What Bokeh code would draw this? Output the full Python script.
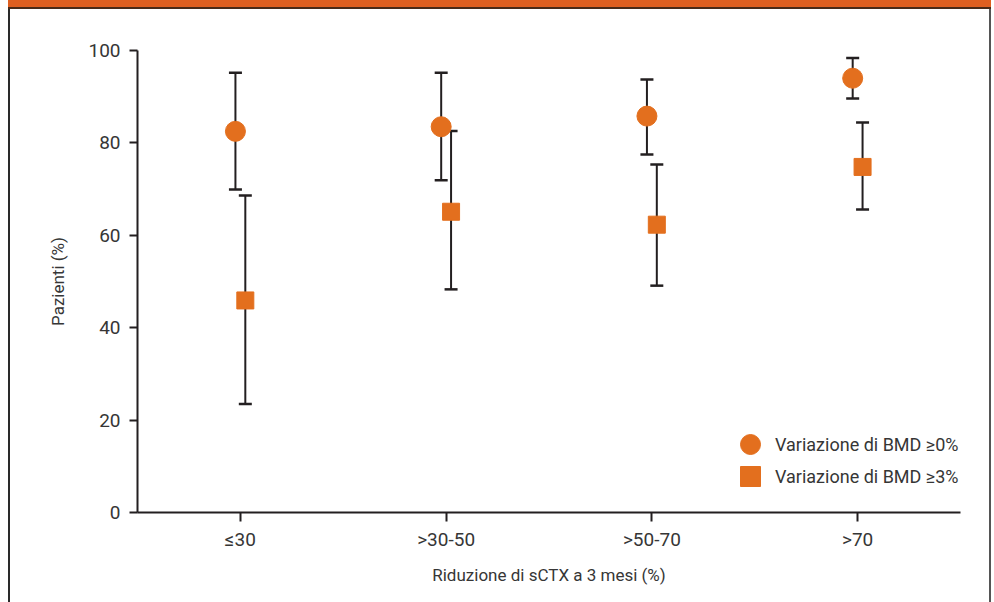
from bokeh.plotting import figure
from bokeh.models import (ColumnDataSource, FactorRange, Whisker, TeeHead, Legend,
                          LegendItem, FixedTicker)
from bokeh.transform import dodge
from bokeh.embed import file_html
from bokeh.resources import INLINE

# ---- data ----
categories = ["≤30", ">30-50", ">50-70", ">70"]
bmd0_mean = [82.5, 83.5, 85.8, 94.0]
bmd0_low = [69.9, 71.9, 77.5, 89.6]
bmd0_high = [95.2, 95.2, 93.7, 98.4]
bmd3_mean = [45.9, 65.1, 62.3, 74.8]
bmd3_low = [23.5, 48.3, 49.1, 65.6]
bmd3_high = [68.6, 82.6, 75.3, 84.4]
y_ticks = [0, 20, 40, 60, 80, 100]
series_labels = ["Variazione di BMD ≥0%", "Variazione di BMD ≥3%"]

ORANGE = "#E36F1E"
DARK = "#231f20"
TEXT = "#363636"
FONT = "Roboto"

src0 = ColumnDataSource(dict(cat=categories, y=bmd0_mean, lo=bmd0_low, hi=bmd0_high))
src3 = ColumnDataSource(dict(cat=categories, y=bmd3_mean, lo=bmd3_low, hi=bmd3_high))

p = figure(
    width=983, height=602,
    x_range=FactorRange(factors=categories, range_padding=0),
    y_range=(0, 100),
    output_backend="svg", toolbar_location=None,
    min_border_left=129, min_border_right=31,
    min_border_top=50, min_border_bottom=90,
)
p.border_fill_alpha = 0
p.background_fill_alpha = 0
p.outline_line_color = None
p.grid.visible = False
p.styles = {
    "margin-left": "8px",
    "box-shadow": "inset 0 7px 0 #DF5F20, inset 0 9px 0 #4a2a18, "
                  "inset 2px 0 0 #2a2a2a, inset -2px 0 0 #555555",
}

off = 0.024
for src, d in ((src0, -off), (src3, off)):
    w = Whisker(source=src, base=dodge("cat", d, range=p.x_range), lower="lo", upper="hi",
                line_color=DARK, line_width=2, level="underlay",
                upper_head=TeeHead(size=13, line_color=DARK, line_width=2.5),
                lower_head=TeeHead(size=13, line_color=DARK, line_width=2.5))
    p.add_layout(w)

r0 = p.scatter(x=dodge("cat", -off, range=p.x_range), y="y", source=src0,
               marker="circle", size=20, fill_color=ORANGE, line_color=ORANGE)
r3 = p.scatter(x=dodge("cat", off, range=p.x_range), y="y", source=src3,
               marker="square", size=17, fill_color=ORANGE, line_color=ORANGE)

# axes
for ax in (p.xaxis[0], p.yaxis[0]):
    ax.axis_line_color = DARK
    ax.axis_line_width = 2
    ax.major_tick_line_color = DARK
    ax.major_tick_line_width = 2
    ax.major_tick_in = 0
    ax.minor_tick_line_color = None
    ax.major_label_text_font = FONT
    ax.major_label_text_font_size = "19px"
    ax.major_label_text_color = TEXT
    ax.axis_label_text_font = FONT
    ax.axis_label_text_font_size = "17px"
    ax.axis_label_text_font_style = "normal"
    ax.axis_label_text_color = TEXT

p.yaxis.ticker = FixedTicker(ticks=y_ticks)
p.yaxis.major_tick_out = 8
p.yaxis.major_label_standoff = 9
p.yaxis.axis_label = "Pazienti (%)"
p.yaxis.axis_label_standoff = 17

p.xaxis.major_tick_out = 9
p.xaxis.major_label_standoff = 6
p.xaxis.axis_label = "Riduzione di sCTX a 3 mesi (%)"
p.xaxis.axis_label_standoff = 11

# two one-item legends, so that each marker sits where the reference has it
legend_common = dict(glyph_width=50, glyph_height=50, label_standoff=-5, padding=0, margin=0,
                     border_line_color=None, background_fill_alpha=0,
                     label_text_font=FONT, label_text_font_size="18px",
                     label_text_color=TEXT)
leg0 = Legend(items=[LegendItem(label=series_labels[0], renderers=[r0])],
              location=(588, 43), **legend_common)
leg3 = Legend(items=[LegendItem(label=series_labels[1], renderers=[r3])],
              location=(588, 11), **legend_common)
p.add_layout(leg0)
p.add_layout(leg3)

open("out.html", "w").write(file_html(p, INLINE))
